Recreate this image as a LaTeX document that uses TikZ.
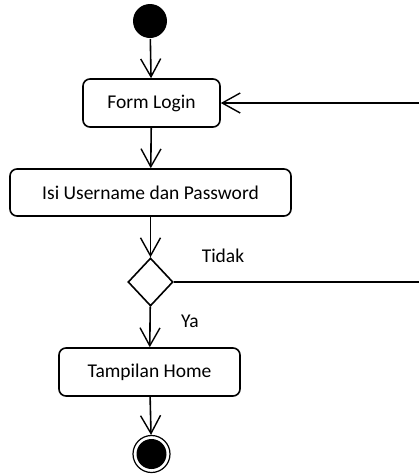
\documentclass[tikz,border=0pt]{standalone}
\usepackage{fontspec}
\setmainfont{Carlito}
\usetikzlibrary{arrows.meta,shapes.geometric}
\begin{document}
\begin{tikzpicture}[x=1pt,y=-1pt,
  line width=1.6pt,
  act/.style={draw, rounded corners=7pt, minimum height=48pt, inner sep=0pt, font=\fontsize{19.5}{21}\selectfont},
  flow/.style={-{Straight Barb[length=18pt,width=20pt,line width=1.4pt]}},
  lbl/.style={font=\fontsize{19.5}{21}\selectfont, inner sep=0pt}
]
\useasboundingbox (0,0) rectangle (419,475);
\clip (0,0) rectangle (419,475);
\node[circle, fill=black, minimum size=34pt, inner sep=0pt] (start) at (150,21) {};
\node[act, minimum width=137pt] (form) at (151.5,103) {Form Login};
\node[act, minimum width=281pt, minimum height=47pt] (isi) at (150.5,192.5) {Isi Username dan Password};
\node[diamond, draw, minimum width=45pt, minimum height=48pt, inner sep=0pt] (dec) at (150.5,282) {};
\node[act, minimum width=181pt] (home) at (149.5,372) {Tampilan Home};
\node[circle, draw, line width=1.2pt, minimum size=37pt, inner sep=0pt] (end) at (151.5,454) {};
\node[circle, fill=black, minimum size=30pt, inner sep=0pt] (endin) at (end.center) {};
\coordinate (far) at (440,282);
\node[lbl] (tidak) at (223,256) {Tidak};
\node[lbl] (ya) at (190,321) {Ya};
\draw[flow] (start) -- (form);
\draw[flow] (form) -- (isi);
\draw[flow] (isi) -- (dec);
\draw[flow] (dec) -- (home);
\draw[flow] (home) -- (end);
\draw[flow] (dec.east) -- (far) |- (form.east);
\end{tikzpicture}
\end{document}
